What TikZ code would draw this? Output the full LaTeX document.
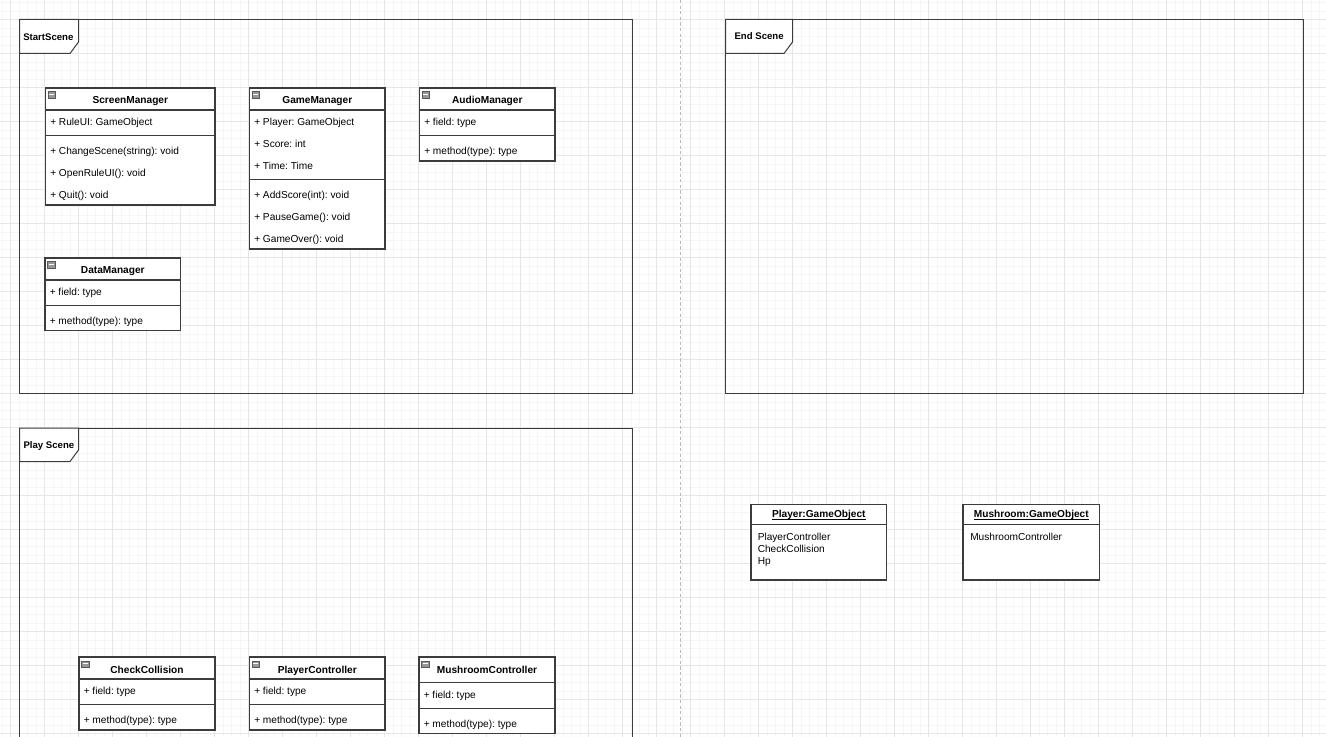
\documentclass[tikz,border=0pt]{standalone}
\usepackage{fontspec}
\setmainfont{Liberation Sans}
\usetikzlibrary{positioning}
\definecolor{gridminor}{RGB}{246,246,246}
\definecolor{gridmajor}{RGB}{230,230,230}
\definecolor{umlgray}{RGB}{60,60,60}
\definecolor{iconfill}{RGB}{150,150,150}
\tikzset{
    umlframe/.style={draw=umlgray, line width=0.75pt},
    umltab/.style={draw=umlgray, fill=white, line width=0.75pt},
    umlbox/.style={draw=umlgray, fill=white, line width=0.85pt},
    umlsep/.style={draw=umlgray, line width=0.85pt},
    sceneline/.style={draw=gray!55, line width=0.75pt, dash pattern=on 2.4pt off 1.8pt},
    framelabel/.style={font=\fontsize{7.2}{8.6}\selectfont\bfseries, anchor=base west, inner sep=0pt},
    classname/.style={font=\fontsize{7.6}{9}\selectfont\bfseries, anchor=base, inner sep=0pt, yshift=-0.75pt},
    member/.style={font=\fontsize{7.6}{9}\selectfont, anchor=base west, inner sep=0pt, yshift=-0.6pt},
    foldicon/.style={rectangle, draw=gray!70!black, fill=iconfill, line width=0.3pt, inner sep=0pt,
        minimum width=5.8pt, minimum height=4.8pt, anchor=north west,
        path picture={\draw[white, line width=0.7pt] ([xshift=1pt]path picture bounding box.west) -- ([xshift=-1pt]path picture bounding box.east);}},
}

\begin{document}
\frenchspacing
\begin{tikzpicture}[x=0.75pt, y=-0.75pt]
    \useasboundingbox (0,0) rectangle (1326,737);
    \fill[white] (0,0) rectangle (1326,737);
    % grid
    \foreach \k in {0,...,155}
        \draw[gridminor, line width=0.6pt] ({2.2+8.5*\k},0) -- ++(0,737);
    \foreach \k in {0,...,86}
        \draw[gridminor, line width=0.6pt] (0,{2.5+8.5*\k}) -- ++(1326,0);
    \foreach \k in {0,...,38}
        \draw[gridmajor, line width=0.6pt] ({10.7+34*\k},0) -- ++(0,737);
    \foreach \k in {0,...,21}
        \draw[gridmajor, line width=0.6pt] (0,{19.5+34*\k}) -- ++(1326,0);
    \coordinate (splittop) at (680.5,0);
    \coordinate (splitbot) at (680.5,737);
    \draw[sceneline] (splittop) -- (splitbot);

    % scene frames
    \draw[umlframe] (19.5,19.5) rectangle (632,393.5);
    \draw[umltab] (19.5,19.5) -- (78.5,19.5) -- (78.5,42) -- (70,53.5) -- (19.5,53.5) -- cycle;
    \node[framelabel] (startlbl) at (23,40.5) {StartScene};
    \draw[umlframe] (19.5,738) -- (19.5,428) -- (632,428) -- (632,738);
    \draw[umltab] (19.5,428) -- (78.5,428) -- (78.5,450) -- (70,461.5) -- (19.5,461.5) -- cycle;
    \node[framelabel] (playlbl) at (23.3,448.4) {Play Scene};
    \draw[umlframe] (725.5,19.5) rectangle (1303,393.5);
    \draw[umltab] (725.5,19.5) -- (792.5,19.5) -- (792.5,42) -- (784,53.5) -- (725.5,53.5) -- cycle;
    \node[framelabel] (endlbl) at (734.3,40) {End Scene};

    % ScreenManager
    \draw[umlbox] (45.5,88) rectangle (215,205);
    \draw[umlsep] (45.5,110) -- (215,110) (45.5,135.5) -- (215,135.5);
    \node[foldicon] (screenicon) at (47.5,91.5) {};
    \node[classname] (screen) at (130.3,103) {ScreenManager};
    \node[member] (screenf1) at (50,124.5) {+ RuleUI: GameObject};
    \foreach \txt [count=\k] in {+ ChangeScene(string): void, + OpenRuleUI(): void, + Quit(): void}
        \node[member] (screenm\k) at (50,{131.5+22*\k}) {\txt};

    % GameManager
    \draw[umlbox] (249.5,88) rectangle (385,249);
    \draw[umlsep] (249.5,110) -- (385,110) (249.5,179.5) -- (385,179.5);
    \node[foldicon] (gameicon) at (251.5,91.5) {};
    \node[classname] (game) at (317.3,103) {GameManager};
    \foreach \txt [count=\k] in {+ Player: GameObject, + Score: int, + Time: Time}
        \node[member] (gamef\k) at (254,{102.5+22*\k}) {\txt};
    \foreach \txt [count=\k] in {+ AddScore(int): void, + PauseGame(): void, + GameOver(): void}
        \node[member] (gamem\k) at (254,{175.5+22*\k}) {\txt};

    % AudioManager
    \draw[umlbox] (419.5,88) rectangle (555,161);
    \draw[umlsep] (419.5,110) -- (555,110) (419.5,135.5) -- (555,135.5);
    \node[foldicon] (audioicon) at (421.5,91.5) {};
    \node[classname] (audio) at (487.3,103) {AudioManager};
    \node[member] (audiof1) at (424,124.5) {+ field: type};
    \node[member] (audiom1) at (424,153.5) {+ method(type): type};

    % DataManager
    \draw[umlbox] (45,258) rectangle (180.5,330.5);
    \draw[umlsep] (45,280) -- (180.5,280) (45,305.5) -- (180.5,305.5);
    \node[foldicon] (dataicon) at (47,261.5) {};
    \node[classname] (data) at (112.8,273) {DataManager};
    \node[member] (dataf1) at (49.5,294.5) {+ field: type};
    \node[member] (datam1) at (49.5,323.5) {+ method(type): type};

    % CheckCollision
    \draw[umlbox] (79,657) rectangle (215,730);
    \draw[umlsep] (79,679) -- (215,679) (79,704.5) -- (215,704.5);
    \node[foldicon] (checkicon) at (81,660.5) {};
    \node[classname] (check) at (147,672) {CheckCollision};
    \node[member] (checkf1) at (83.5,694) {+ field: type};
    \node[member] (checkm1) at (83.5,723) {+ method(type): type};

    % PlayerController
    \draw[umlbox] (249.5,657) rectangle (385,730);
    \draw[umlsep] (249.5,679) -- (385,679) (249.5,704.5) -- (385,704.5);
    \node[foldicon] (playericon) at (251.5,660.5) {};
    \node[classname] (playerctl) at (317.3,672) {PlayerController};
    \node[member] (playerf1) at (254,694) {+ field: type};
    \node[member] (playerm1) at (254,723) {+ method(type): type};

    % MushroomController
    \draw[umlbox] (419,657) rectangle (555,733.5);
    \draw[umlsep] (419,682.5) -- (555,682.5) (419,708.5) -- (555,708.5);
    \node[foldicon] (mushicon) at (421,660.5) {};
    \node[classname] (mushctl) at (487,672) {MushroomController};
    \node[member] (mushf1) at (423.5,698) {+ field: type};
    \node[member] (mushm1) at (423.5,727) {+ method(type): type};

    % objects
    \draw[umlbox] (751,504.5) rectangle (886.5,580);
    \draw[umlsep] (751,524.5) -- (886.5,524.5);
    \node[classname] (playerobj) at (818.8,516.5) {Player:GameObject};
    \draw[black, line width=0.6pt] ([yshift=-1.3pt]playerobj.base west) -- ([yshift=-1.3pt]playerobj.base east);
    \foreach \txt [count=\k] in {PlayerController, CheckCollision, Hp}
        \node[member] (playerobj\k) at (757.5,{528+12*\k}) {\txt};

    \draw[umlbox] (963,504.5) rectangle (1099.5,580);
    \draw[umlsep] (963,524.5) -- (1099.5,524.5);
    \node[classname] (mushobj) at (1031.3,516.5) {Mushroom:GameObject};
    \draw[black, line width=0.6pt] ([yshift=-1.3pt]mushobj.base west) -- ([yshift=-1.3pt]mushobj.base east);
    \node[member] (mushobj1) at (970,540) {MushroomController};
\end{tikzpicture}
\end{document}
